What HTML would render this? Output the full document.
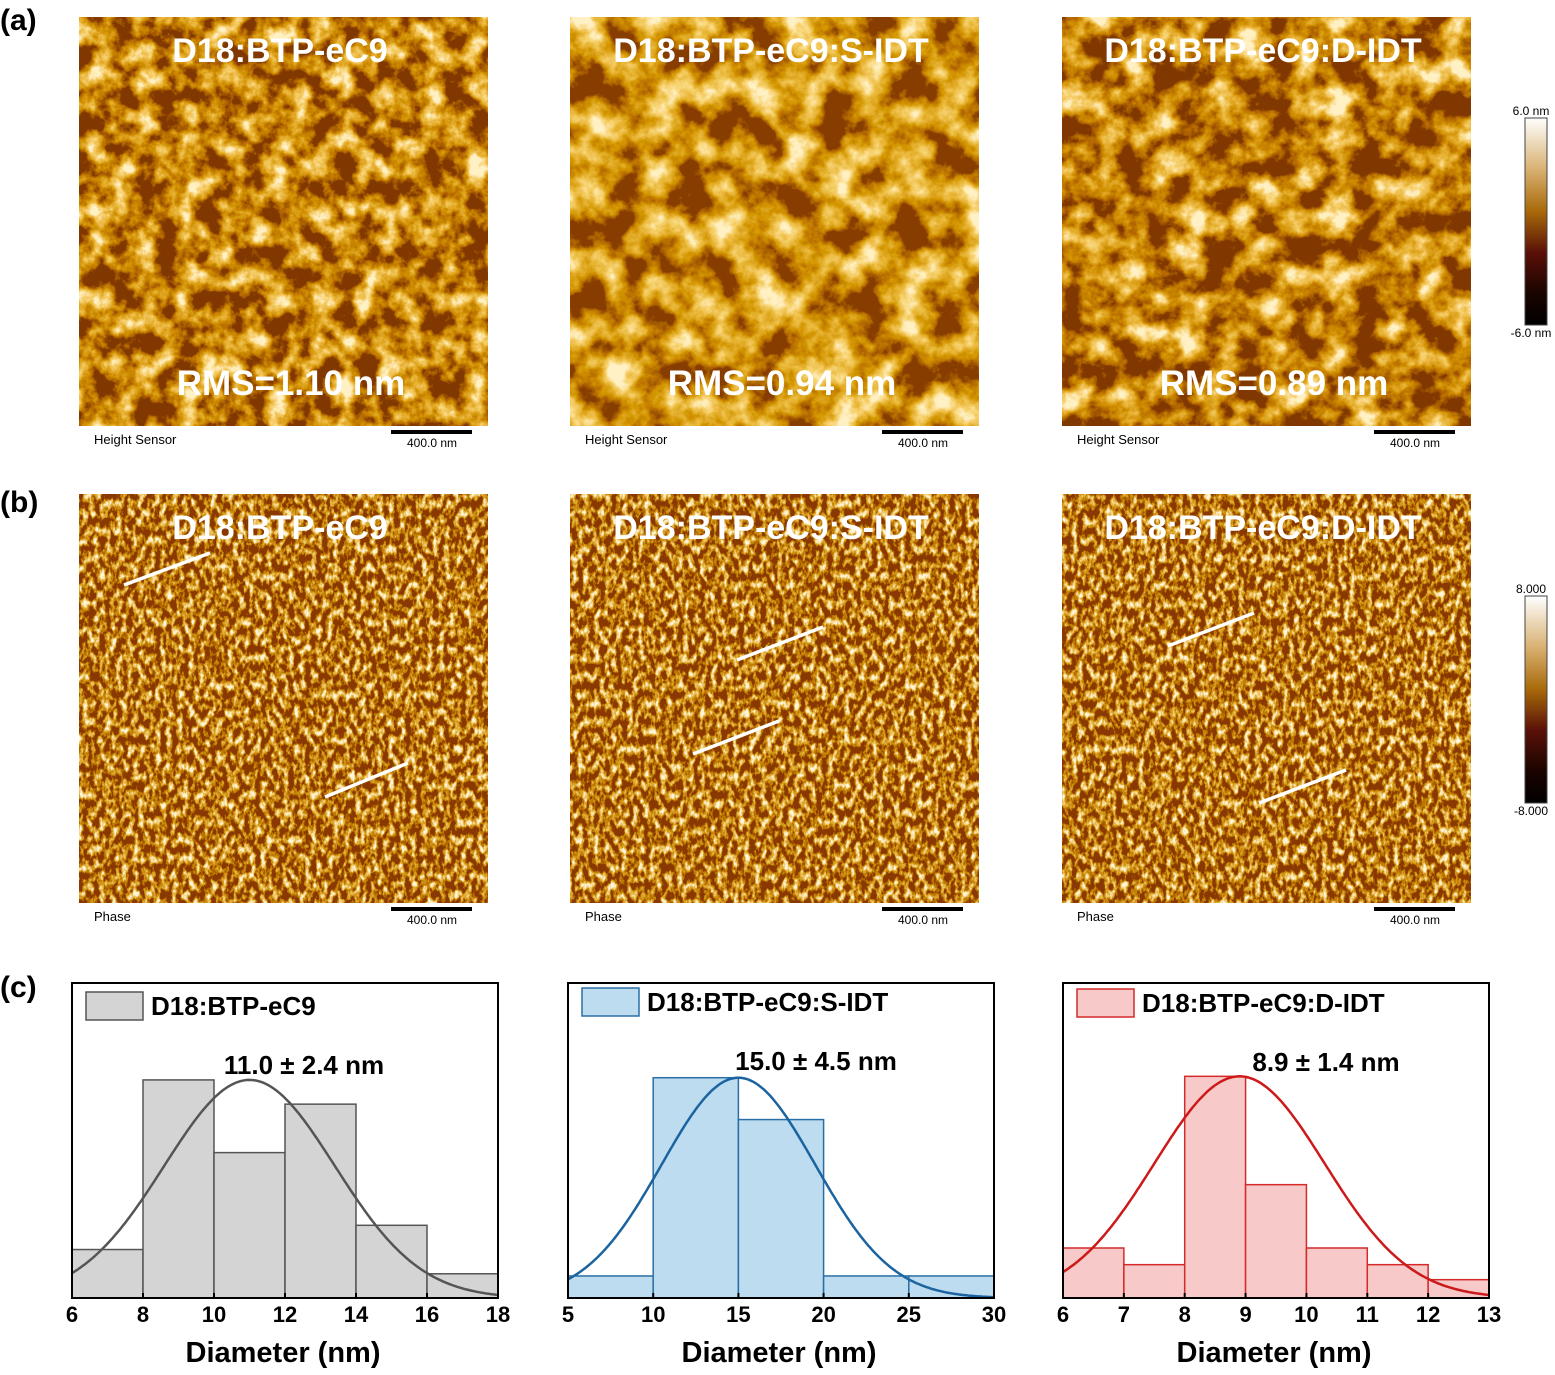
<!DOCTYPE html>
<html><head><meta charset="utf-8">
<style>
html,body{margin:0;padding:0;background:#fff;}
body{width:1555px;height:1370px;position:relative;overflow:hidden;font-family:"Liberation Sans",Arial,sans-serif;}
svg text{font-family:"Liberation Sans",Arial,sans-serif;}
</style></head>
<body>
<svg id="fig" width="1555" height="1370" viewBox="0 0 1555 1370" xmlns="http://www.w3.org/2000/svg">
<defs>
  <linearGradient id="cbar" x1="0" y1="0" x2="0" y2="1">
    <stop offset="0" stop-color="#ffffff"/>
    <stop offset="0.25" stop-color="#d8b070"/>
    <stop offset="0.45" stop-color="#a86a0a"/>
    <stop offset="0.65" stop-color="#5a1008"/>
    <stop offset="0.85" stop-color="#1a0400"/>
    <stop offset="1" stop-color="#000000"/>
  </linearGradient>
  <filter id="hgt1" x="0" y="0" width="100%" height="100%">
    <feTurbulence type="fractalNoise" baseFrequency="0.045" numOctaves="6" seed="3"/>
    <feColorMatrix type="matrix" values="1 0 0 0 0 1 0 0 0 0 1 0 0 0 0 0 0 0 0 1"/>
    <feComponentTransfer><feFuncR type="linear" slope="2.4" intercept="-0.88"/><feFuncG type="linear" slope="2.4" intercept="-0.88"/><feFuncB type="linear" slope="2.4" intercept="-0.88"/></feComponentTransfer>
    <feComponentTransfer><feFuncR type="table" tableValues="0.22 0.46 0.64 0.8 0.93 1"/><feFuncG type="table" tableValues="0.04 0.14 0.28 0.44 0.63 0.88"/><feFuncB type="table" tableValues="0 0 0 0.03 0.15 0.55"/></feComponentTransfer>
  </filter>
  <filter id="hgt2" x="0" y="0" width="100%" height="100%">
    <feTurbulence type="fractalNoise" baseFrequency="0.028" numOctaves="6" seed="7"/>
    <feColorMatrix type="matrix" values="1 0 0 0 0 1 0 0 0 0 1 0 0 0 0 0 0 0 0 1"/>
    <feComponentTransfer><feFuncR type="linear" slope="2.4" intercept="-0.83"/><feFuncG type="linear" slope="2.4" intercept="-0.83"/><feFuncB type="linear" slope="2.4" intercept="-0.83"/></feComponentTransfer>
    <feComponentTransfer><feFuncR type="table" tableValues="0.25 0.5 0.67 0.82 0.94 1"/><feFuncG type="table" tableValues="0.05 0.17 0.32 0.48 0.66 0.88"/><feFuncB type="table" tableValues="0 0 0 0.04 0.17 0.55"/></feComponentTransfer>
  </filter>
  <filter id="hgt3" x="0" y="0" width="100%" height="100%">
    <feTurbulence type="fractalNoise" baseFrequency="0.034" numOctaves="6" seed="11"/>
    <feColorMatrix type="matrix" values="1 0 0 0 0 1 0 0 0 0 1 0 0 0 0 0 0 0 0 1"/>
    <feComponentTransfer><feFuncR type="linear" slope="2.4" intercept="-0.88"/><feFuncG type="linear" slope="2.4" intercept="-0.88"/><feFuncB type="linear" slope="2.4" intercept="-0.88"/></feComponentTransfer>
    <feComponentTransfer><feFuncR type="table" tableValues="0.22 0.46 0.64 0.8 0.93 1"/><feFuncG type="table" tableValues="0.04 0.14 0.28 0.44 0.63 0.88"/><feFuncB type="table" tableValues="0 0 0 0.03 0.15 0.55"/></feComponentTransfer>
  </filter>
  <filter id="phs" x="0" y="0" width="100%" height="100%">
    <feTurbulence type="fractalNoise" baseFrequency="0.18 0.11" numOctaves="3" seed="5"/>
    <feColorMatrix type="matrix" values="1 0 0 0 0 1 0 0 0 0 1 0 0 0 0 0 0 0 0 1"/>
    <feComponentTransfer><feFuncR type="linear" slope="2.8" intercept="-1.15"/><feFuncG type="linear" slope="2.8" intercept="-1.15"/><feFuncB type="linear" slope="2.8" intercept="-1.15"/></feComponentTransfer>
    <feComponentTransfer><feFuncR type="table" tableValues="0.25 0.48 0.64 0.8 0.93 1"/><feFuncG type="table" tableValues="0.04 0.16 0.3 0.47 0.7 0.92"/><feFuncB type="table" tableValues="0 0 0.01 0.05 0.3 0.7"/></feComponentTransfer>
  </filter>
</defs>
<g id="afm"></g>
<g id="hists"></g>
</svg>
<script>
// ---------- histogram data ----------
const h1Edges = [6, 8, 10, 12, 14, 16, 18];
const h1Counts = [2, 9, 6, 8, 3, 1];
const h1Fit = [11.0, 2.4, 9.0];
const h1Ticks = [6, 8, 10, 12, 14, 16, 18];
const h2Edges = [5, 10, 15, 20, 25, 30];
const h2Counts = [1, 10, 8.1, 1, 1];
const h2Fit = [15.0, 4.5, 10.0];
const h2Ticks = [5, 10, 15, 20, 25, 30];
const h3Edges = [6, 7, 8, 9, 10, 11, 12, 13];
const h3Counts = [3, 2, 13.3, 6.8, 3, 2, 1.1];
const h3Fit = [8.9, 1.4, 13.3];
const h3Ticks = [6, 7, 8, 9, 10, 11, 12, 13];
const sampleNames = ["D18:BTP-eC9", "D18:BTP-eC9:S-IDT", "D18:BTP-eC9:D-IDT"];
const rmsLabels = ["RMS=1.10 nm", "RMS=0.94 nm", "RMS=0.89 nm"];
const fitLabels = ["11.0 ± 2.4 nm", "15.0 ± 4.5 nm", "8.9 ± 1.4 nm"];

const NS = "http://www.w3.org/2000/svg";
function mk(tag, attrs, parent, txt) {
  const e = document.createElementNS(NS, tag);
  for (const k in attrs) e.setAttribute(k, attrs[k]);
  if (txt !== undefined) e.textContent = txt;
  parent.appendChild(e);
  return e;
}
const afm = document.getElementById('afm');
const hists = document.getElementById('hists');
const fig = document.getElementById('fig');

[["(a)", 18], ["(b)", 500], ["(c)", 985]].forEach(p => {
  const t = mk('text', {x: 0, y: p[1] + 12, 'font-size': 30, 'font-weight': 'bold', fill: '#000'}, fig, p[0]);
  
  
});

const colX = [79, 570, 1062];
const rows = [{y: 17, filt: ['hgt1', 'hgt2', 'hgt3'], lab: 'Height Sensor'}, {y: 494, filt: ['phs', 'phs', 'phs'], lab: 'Phase'}];
const lines = [
  [[124, 585, 210, 553], [325, 797, 408, 763]],
  [[737, 660, 823, 627], [693, 754, 779, 721]],
  [[1168, 646, 1254, 613], [1259, 803, 1346, 770]]
];
rows.forEach((r, ri) => {
  colX.forEach((x, ci) => {
    const g = mk('g', {}, afm);
    
    
    mk('rect', {x: x, y: r.y, width: 409, height: 409, fill: '#a86a1a', filter: 'url(#' + r.filt[ci] + ')'}, g);
    const t = mk('text', {x: x + 201, y: r.y + 45, 'font-size': 34, 'font-weight': 'bold', fill: '#fff', 'text-anchor': 'middle'}, g, sampleNames[ci]);
    
    
    if (ri === 0) {
      const rt = mk('text', {x: x + 212, y: r.y + 378, 'font-size': 35, 'font-weight': 'bold', fill: '#fff', 'text-anchor': 'middle'}, g, rmsLabels[ci]);
      
      
    } else {
      lines[ci].forEach(l => {
        const ln = mk('line', {x1: l[0], y1: l[1], x2: l[2], y2: l[3], stroke: '#fff', 'stroke-width': 3.5}, g);
        
        
      });
    }
    const sl = mk('text', {x: x + 15, y: r.y + 427, 'font-size': 13, fill: '#000'}, g, r.lab);
    
    
    const sb = mk('rect', {x: x + 312, y: r.y + 413, width: 81, height: 4, fill: '#000'}, g);
    
    
    const st = mk('text', {x: x + 353, y: r.y + 430, 'font-size': 12, fill: '#000', 'text-anchor': 'middle'}, g, '400.0 nm');
    
    
  });
});
[[118, 325, '6.0 nm', '-6.0 nm'], [596, 803, '8.000', '-8.000']].forEach(c => {
  const cb = mk('rect', {x: 1525, y: c[0], width: 22, height: c[1] - c[0], fill: 'url(#cbar)', stroke: '#444', 'stroke-width': 1}, afm);
  
  
  const t1 = mk('text', {x: 1531, y: c[0] - 3, 'font-size': 12, fill: '#000', 'text-anchor': 'middle'}, afm, c[2]);
  
  
  const t2 = mk('text', {x: 1531, y: c[1] + 12, 'font-size': 12, fill: '#000', 'text-anchor': 'middle'}, afm, c[3]);
  
  
});

// ---------- histograms ----------
const histCfg = [
  {edges: h1Edges, counts: h1Counts, fit: h1Fit, ticks: h1Ticks, x0: 72, x1: 498, ymax: 13.0, fill: '#d4d4d4', stroke: '#555', curve: '#555', name: sampleNames[0], fl: fitLabels[0], fx: 304, fy: 1074, ly: 992},
  {edges: h2Edges, counts: h2Counts, fit: h2Fit, ticks: h2Ticks, x0: 568, x1: 994, ymax: 14.3, fill: '#bddcef', stroke: '#2a6ea6', curve: '#1b64a0', name: sampleNames[1], fl: fitLabels[1], fx: 816, fy: 1070, ly: 988},
  {edges: h3Edges, counts: h3Counts, fit: h3Fit, ticks: h3Ticks, x0: 1063, x1: 1489, ymax: 18.9, fill: '#f7c9c9', stroke: '#d42a2a', curve: '#cc1a1a', name: sampleNames[2], fl: fitLabels[2], fx: 1326, fy: 1071, ly: 989}
];
const yTop = 983, yBot = 1298;
histCfg.forEach((c, hi) => {
  const g = mk('g', {}, hists);
  
  
  const lo = c.edges[0], hiE = c.edges[c.edges.length - 1];
  const sx = v => c.x0 + (v - lo) / (hiE - lo) * (c.x1 - c.x0);
  const sy = v => yBot - v / c.ymax * (yBot - yTop);
  c.counts.forEach((n, i) => {
    const b = mk('rect', {x: sx(c.edges[i]), y: sy(n), width: sx(c.edges[i + 1]) - sx(c.edges[i]), height: yBot - sy(n), fill: c.fill, stroke: c.stroke, 'stroke-width': 1.5}, g);
    
    
  });
  let d = '';
  for (let k = 0; k <= 200; k++) {
    const v = lo + (hiE - lo) * k / 200;
    const yv = c.fit[2] * Math.exp(-0.5 * Math.pow((v - c.fit[0]) / c.fit[1], 2));
    d += (k ? 'L' : 'M') + sx(v).toFixed(1) + ' ' + sy(yv).toFixed(1);
  }
  const cv = mk('path', {d: d, fill: 'none', stroke: c.curve, 'stroke-width': 2.5}, g);
  
  
  const fr = mk('rect', {x: c.x0, y: yTop, width: c.x1 - c.x0, height: yBot - yTop, fill: 'none', stroke: '#000', 'stroke-width': 2}, g);
  
  
  c.ticks.forEach(t => {
    const tk = mk('line', {x1: sx(t), y1: yBot, x2: sx(t), y2: yBot - 5, stroke: '#000', 'stroke-width': 2}, g);
    
    
    const tl = mk('text', {x: sx(t), y: yBot + 24, 'font-size': 22, 'font-weight': 'bold', 'text-anchor': 'middle', fill: '#000'}, g, String(t));
    
    
  });
  const at = mk('text', {x: (c.x0 + c.x1) / 2 - 2, y: 1362, 'font-size': 29, 'font-weight': 'bold', 'text-anchor': 'middle', fill: '#000'}, g, 'Diameter (nm)');
  
  
  const lb = mk('rect', {x: c.x0 + 14, y: c.ly, width: 57, height: 28, fill: c.fill, stroke: c.stroke, 'stroke-width': 1.5}, g);
  
  
  const lt = mk('text', {x: c.x0 + 79, y: c.ly + 23, 'font-size': 26, 'font-weight': 'bold', fill: '#000'}, g, c.name);
  
  
  const ft = mk('text', {x: c.fx, y: c.fy, 'font-size': 26, 'font-weight': 'bold', 'text-anchor': 'middle', fill: '#000'}, g, c.fl);
  
  
});
</script>
</body></html>
